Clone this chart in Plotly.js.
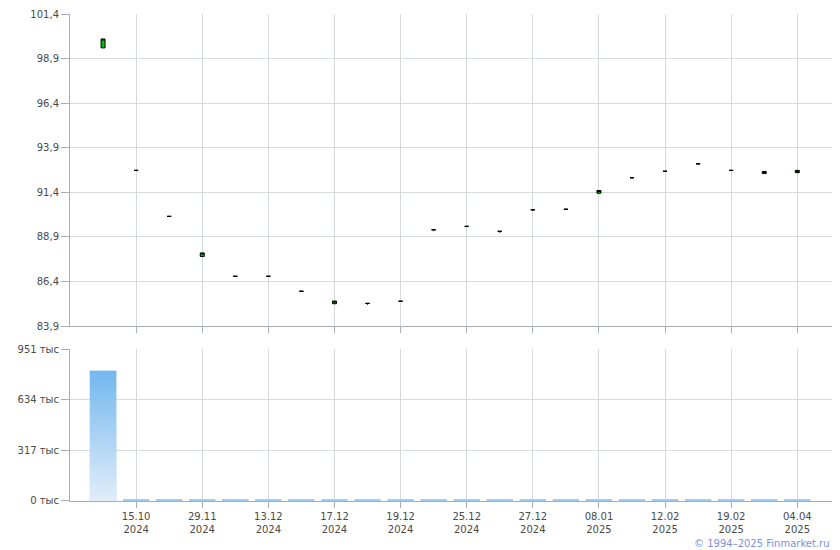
<!DOCTYPE html>
<html>
<head>
<meta charset="utf-8">
<script src="https://cdn.plot.ly/plotly-3.0.1.min.js"></script>
<style>html,body{margin:0;padding:0;background:#fff;}#chart{width:840px;height:550px;}</style>
</head>
<body>
<div id="chart"></div>
<script>
// ---- data ----
var idx = [0,1,2,3,4,5,6,7,8,9,10,11,12,13,14,15,16,17,18,19,20,21];
var openP  = [99.50,92.63,90.05,87.80,86.69,86.69,85.85,85.15,85.17,85.29,89.30,89.49,89.21,90.42,90.45,91.35,92.22,92.58,93.00,92.63,92.45,92.50];
var highP  = [100.00,92.63,90.05,88.00,86.69,86.69,85.85,85.30,85.17,85.29,89.30,89.49,89.21,90.42,90.45,91.50,92.22,92.58,93.00,92.63,92.57,92.63];
var lowP   = [99.50,92.63,90.05,87.80,86.69,86.69,85.85,85.15,85.09,85.29,89.22,89.49,89.13,90.35,90.45,91.35,92.15,92.58,92.93,92.63,92.45,92.50];
var closeP = [100.00,92.63,90.05,88.00,86.69,86.69,85.85,85.30,85.17,85.29,89.30,89.49,89.21,90.42,90.45,91.50,92.22,92.58,93.00,92.63,92.57,92.63];
var volume = [815000,12000,12000,12000,12000,12000,12000,12000,12000,12000,12000,12000,12000,12000,12000,12000,12000,12000,12000,12000,12000,12000];
var tickIdx = [1,3,5,7,9,11,13,15,17,19,21];
var tickLabels = ["15.10<br>2024","29.11<br>2024","13.12<br>2024","17.12<br>2024","19.12<br>2024","25.12<br>2024","27.12<br>2024","08.01<br>2025","12.02<br>2025","19.02<br>2025","04.04<br>2025"];
var priceTicks = [83.9,86.4,88.9,91.4,93.9,96.4,98.9,101.4];
var priceTickText = ["83,9","86,4","88,9","91,4","93,9","96,4","98,9","101,4"];
var volTicks = [0,317000,634000,951000];
var volTickText = ["0 тыс","317 тыс","634 тыс","951 тыс"];

// ---- styles ----
var gridC = '#d6dadd', axisC = '#a9abb9', txtC = '#4a4a4a';
var fnt = {family: 'DejaVu Sans, Verdana, sans-serif', size: 10, color: txtC};
var barW = 0.8;
var volMax = 951000;

var traces = [{
  type: 'candlestick', x: idx, open: openP, high: highP, low: lowP, close: closeP,
  xaxis: 'x', yaxis: 'y', showlegend: false, hoverinfo: 'skip',
  increasing: {line: {color: '#000000', width: 1}, fillcolor: '#00c000'},
  decreasing: {line: {color: '#000000', width: 1}, fillcolor: '#000000'},
  whiskerwidth: 0
}, {
  type: 'bar', x: idx, y: volume, width: barW, xaxis: 'x2', yaxis: 'y2',
  showlegend: false, hoverinfo: 'skip',
  marker: {color: '#9ccaf0', line: {width: 0}}
}];

// gradient overlay for tall volume bars
idx.forEach(function(i, k) {
  var v = volume[k];
  if (v < volMax * 0.05) return;
  traces.push({
    type: 'scatter', mode: 'lines', xaxis: 'x2', yaxis: 'y2', showlegend: false, hoverinfo: 'skip',
    x: [i - barW/2, i - barW/2, i + barW/2, i + barW/2, i - barW/2],
    y: [0, v, v, 0, 0],
    fill: 'toself', line: {width: 0, color: 'rgba(0,0,0,0)'},
    fillcolor: '#9ccaf0',
    fillgradient: {type: 'vertical', colorscale: [[0, '#e2edf9'], [1, '#72b7ee']]}
  });
});

var xBase = {
  range: [-1, 22.05], tickvals: tickIdx, ticktext: tickLabels, ticks: 'outside', ticklen: 6,
  tickcolor: axisC, showgrid: true, gridcolor: gridC, gridwidth: 1, showline: true, linecolor: axisC,
  linewidth: 1, zeroline: false, tickfont: fnt, fixedrange: true
};
var layout = {
  width: 840, height: 550, paper_bgcolor: '#ffffff', plot_bgcolor: '#ffffff',
  margin: {l: 70, r: 8, t: 14, b: 49},
  showlegend: false, boxgap: 0.88, boxgroupgap: 0, bargap: 0.2,
  font: fnt,
  xaxis: Object.assign({}, xBase, {anchor: 'y', showticklabels: false, rangeslider: {visible: false}}),
  xaxis2: Object.assign({}, xBase, {anchor: 'y2', showticklabels: true}),
  yaxis: {
    domain: [0.3593, 1], range: [83.9, 101.4], tickvals: priceTicks, ticktext: priceTickText,
    ticks: 'outside', ticklen: 8, tickcolor: axisC, showgrid: true, gridcolor: gridC,
    showline: true, linecolor: axisC, zeroline: false, tickfont: fnt, fixedrange: true
  },
  yaxis2: {
    domain: [0, 0.3121], range: [0, volMax], tickvals: volTicks, ticktext: volTickText,
    ticks: 'outside', ticklen: 8, tickcolor: axisC, showgrid: true, gridcolor: gridC,
    showline: true, linecolor: axisC, zeroline: false, tickfont: fnt, fixedrange: true
  },
  annotations: [{
    xref: 'paper', yref: 'paper', x: 1, y: 0, yshift: -42, xanchor: 'right', yanchor: 'middle',
    text: '© 1994–2025 Finmarket.ru', showarrow: false,
    font: {family: 'DejaVu Sans, Verdana, sans-serif', size: 10, color: '#7d8fdc'}
  }]
};
Plotly.newPlot('chart', traces, layout, {staticPlot: true, displayModeBar: false});
</script>
</body>
</html>
